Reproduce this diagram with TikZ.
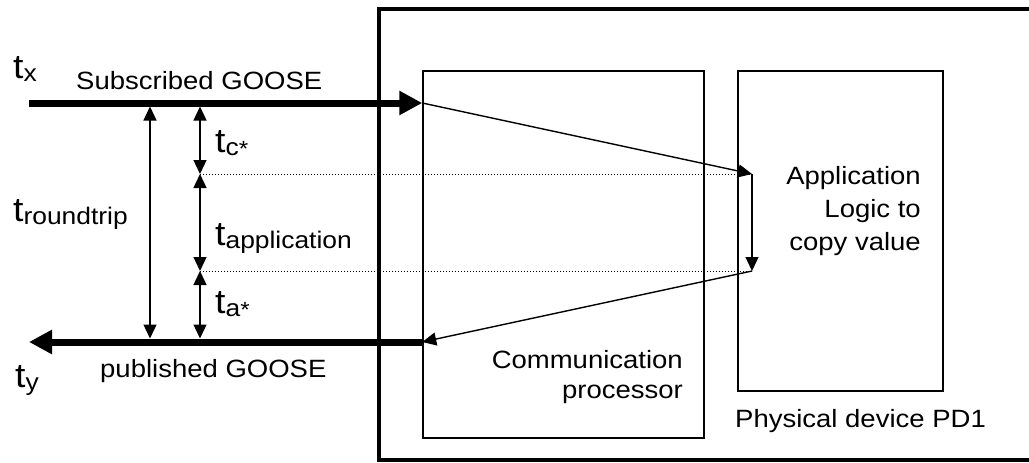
\documentclass[tikz,border=0pt]{standalone}
\usepackage{fontspec}
\setmainfont{Liberation Sans}[FakeStretch=1.10]
\usetikzlibrary{arrows.meta}

% big t with a lowered index and an optional star
\newcommand{\tsub}[2]{{\fontsize{34}{34}\selectfont t}\raisebox{-3pt}{\fontsize{24}{24}\selectfont #1\raisebox{-1pt}{\fontsize{22}{22}\selectfont #2}}}

\begin{document}
\begin{tikzpicture}[x=1pt,y=-1pt,
  goose/.style={line width=7pt, -{Triangle[width=23pt,length=23pt]}},
  span/.style={line width=1.4pt, {Triangle[width=13pt,length=14pt]}-{Triangle[width=13pt,length=14pt]}},
  flow/.style={line width=1.4pt, -{Triangle[width=13pt,length=14pt]}},
  dots/.style={line width=1pt, dotted},
  box/.style={draw, line width=1.5pt, inner sep=0pt},
  lbl/.style={inner sep=0pt, font=\fontsize{25}{33}\selectfont}]
  \useasboundingbox (0,0) rectangle (1029,463);

  % Device frame
  \draw[line width=4pt] (1035,9) -- (379,9) -- (379,460) -- (1035,460);

  % Boxes
  \node[box, minimum width=281pt, minimum height=367pt] (comm) at (563.5,254.5) {};
  \node[box, minimum width=205pt, minimum height=320pt] (app) at (840.5,231) {};

  % Define the points
  \coordinate (inS) at (29,103);
  \coordinate (inE) at (comm.west |- inS);
  \coordinate (outE) at (29,342);
  \coordinate (outS) at (comm.west |- outE);
  \coordinate (appT) at (752,174);
  \coordinate (appB) at (752,271);
  \coordinate (rtT) at (150,103);
  \coordinate (rtB) at (150,342);
  \coordinate (cTop) at (200,103);
  \coordinate (cMid) at (200,174);
  \coordinate (cLow) at (200,271);
  \coordinate (cBot) at (200,342);

  % GOOSE messages
  \draw[goose] (inS) -- (inE);
  \draw[goose] (outS) -- (outE);

  % Path through the device
  \draw[flow] (inE) -- (appT);
  \draw[flow] (appT) -- (appB);
  \draw[flow] (appB) -- (outS);
  \draw[dots] (cMid) -- (appT);
  \draw[dots] (cLow) -- (appB);

  % Time spans
  \draw[span, shorten <=3.5pt, shorten >=3.5pt] (rtT) -- (rtB);
  \draw[span, shorten <=3.5pt] (cTop) -- (cMid);
  \draw[span] (cMid) -- (cLow);
  \draw[span, shorten >=3.5pt] (cLow) -- (cBot);

  % Labels
  \node[lbl, anchor=base west] (tx) at (13,78) {\tsub{x}{}};
  \node[lbl, anchor=base west] (ty) at (15,387) {\tsub{y}{}};
  \node[lbl, anchor=base west] (trt) at (13,221) {\tsub{roundtrip}{}};
  \node[lbl, anchor=base west] (tc) at (215,152) {\tsub{c}{*}};
  \node[lbl, anchor=base west] (tapp) at (215,245) {\tsub{application}{}};
  \node[lbl, anchor=base west] (ta) at (215,313) {\tsub{a}{*}};
  \node[lbl, anchor=base west] (sub) at (76,89) {Subscribed GOOSE};
  \node[lbl, anchor=base west] (pub) at (100,377) {published GOOSE};
  \node[lbl, anchor=base west] (pd) at (735,427) {Physical device PD1};
  \node[lbl, anchor=base east, align=right] (logic) at (921,250) {Application\\Logic to\\copy value};
  \node[lbl, anchor=base east, align=right, font=\fontsize{25}{30}\selectfont] (cp) at (683,398) {Communication\\processor};
\end{tikzpicture}
\end{document}
